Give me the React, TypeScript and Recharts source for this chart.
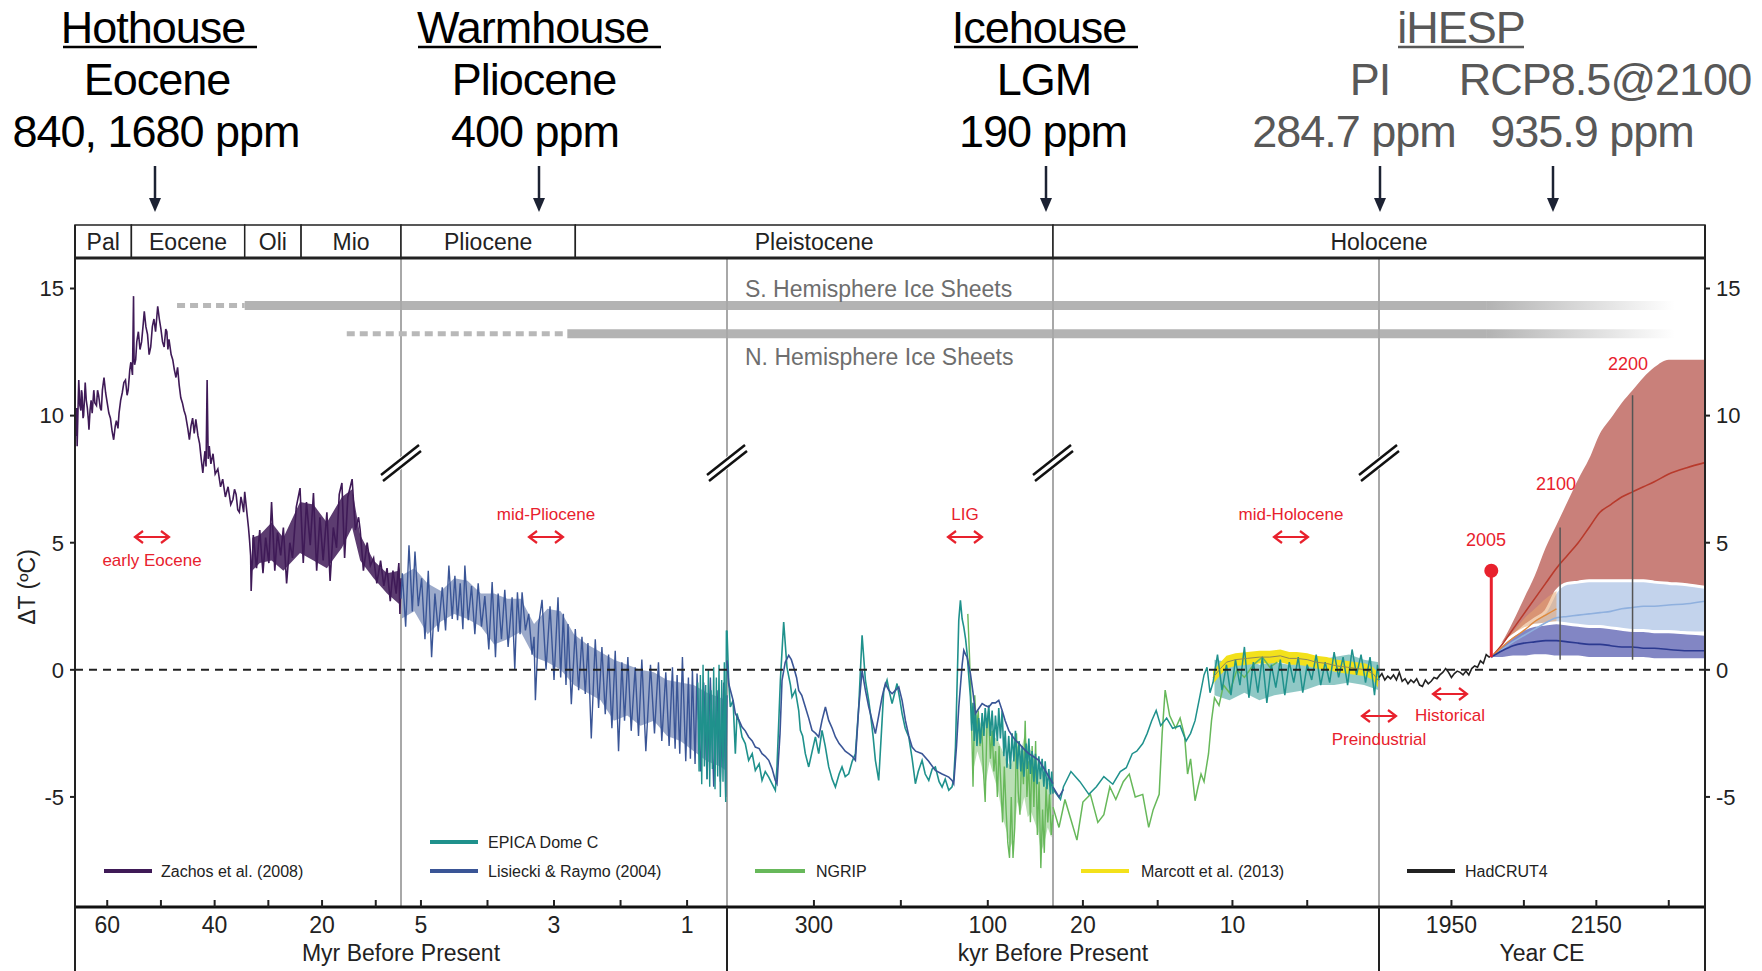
// App.tsx — Cenozoic temperature stack (paleo records + iHESP projections) in Recharts
import {
  ComposedChart, Line, Area, XAxis, YAxis, ReferenceLine, ReferenceArea, ReferenceDot,
} from "recharts";

const F = "'Liberation Sans', Arial, Helvetica, sans-serif";

// five panels on one composite x axis: [from, to] in the panel's own unit
const panels = [
  [66, 5.3],      // Myr
  [5.3, 0.4],     // Myr
  [400, 25],      // kyr
  [22, 0.2],      // kyr
  [1850, 2300],   // year CE
];
const px = (p: number, t: number) => p + (t - panels[p][0]) / (panels[p][1] - panels[p][0]);
const pxMyr = (t: number) => (t >= 5.3 ? px(0, t) : px(1, t));

// ---- axis ticks ----
const tickSets = [
  [60, 50, 40, 30, 20, 10],
  [5, 4, 3, 2, 1],
  [300, 200, 100],
  [20, 15, 10, 5],
  [1950, 2050, 2150, 2250],
];
const tickLabelled = [[60, 40, 20], [5, 3, 1], [300, 100], [20, 10], [1950, 2150]];
const yTicks = [-5, 0, 5, 10, 15];

// ---- era strip ----
const eraNames = ["Pal", "Eocene", "Oli", "Mio", "Pliocene", "Pleistocene", "Holocene"];
const eraBoundsMyr = [66, 55.5, 34.4, 23.9, 5.3, 2.68];

// ---- ice sheets ----
const iceNames = ["S. Hemisphere Ice Sheets", "N. Hemisphere Ice Sheets"];
const iceLevel = [14.33, 13.22];
const iceDashFromMyr = [47, 15.4];
const iceSolidFromMyr = [34.4, 2.8];
const iceFadeFromYear = 1999;
const iceEndYear = 2258;

// ---- Zachos et al. (2008), Myr ----
const zachos = [
  [65.8, 9.2], [65.7, 10.3], [65.6, 8.8], [65.4, 10.6], [65.3, 11.4], [65.1, 10.4], [64.9, 10.2],
  [64.8, 11.0], [64.7, 10.9], [64.5, 9.9], [64.4, 10.0], [64.2, 10.8], [64.1, 11.3], [63.9, 10.6],
  [63.7, 10.3], [63.5, 9.8], [63.4, 9.45], [63.2, 10.2], [63.0, 10.6], [62.8, 10.1], [62.5, 11.0],
  [62.3, 10.5], [62.0, 10.4], [61.8, 11.0], [61.6, 10.8], [61.3, 10.3], [61.1, 10.2], [60.9, 11.0],
  [60.6, 11.5], [60.3, 10.9], [60.0, 10.5], [59.7, 10.1], [59.4, 9.9], [59.1, 9.4], [58.8, 9.05],
  [58.5, 9.6], [58.3, 9.8], [58.0, 9.5], [57.8, 10.1], [57.5, 10.6], [57.2, 10.9], [56.9, 11.3],
  [56.6, 11.4], [56.3, 10.8], [56.1, 11.0], [55.8, 11.8], [55.6, 12.1], [55.3, 11.6], [55.1, 14.7],
  [55.0, 12.2], [54.9, 12.0], [54.7, 12.2], [54.5, 12.9], [54.2, 13.3], [53.9, 12.6], [53.6, 12.9],
  [53.3, 13.6], [53.1, 14.1], [52.8, 13.5], [52.5, 13.2], [52.2, 12.4], [51.9, 12.7], [51.6, 13.5],
  [51.3, 13.8], [51.0, 13.3], [50.6, 14.3], [50.3, 13.8], [50.0, 13.4], [49.7, 12.9], [49.4, 12.7],
  [49.1, 13.4], [48.9, 13.3], [48.7, 12.6], [48.5, 13.0], [48.1, 12.4], [47.8, 12.2], [47.5, 11.8],
  [47.2, 11.5], [46.9, 11.9], [46.6, 11.2], [46.3, 10.7], [46.0, 10.5], [45.7, 10.2], [45.4, 10.0],
  [45.0, 9.5], [44.7, 9.05], [44.4, 9.6], [44.1, 9.9], [43.8, 9.3], [43.5, 9.85], [43.1, 9.2],
  [42.8, 8.9], [42.5, 8.3], [42.2, 7.75], [42.0, 8.2], [41.8, 8.6], [41.6, 8.0], [41.4, 11.4],
  [41.2, 8.3], [41.0, 8.8], [40.7, 8.1], [40.3, 8.5], [39.9, 7.7], [39.4, 7.9], [38.9, 7.2],
  [38.5, 7.5], [38.0, 6.8], [37.5, 7.2], [37.0, 6.5], [36.6, 6.7], [36.3, 7.1], [36.0, 6.9],
  [35.7, 6.3], [35.4, 6.2], [35.1, 6.8], [34.9, 6.6], [34.6, 6.2], [34.4, 7.0], [34.1, 6.4],
  [33.9, 6.0], [33.7, 5.6], [33.5, 5.1], [33.3, 4.5], [33.2, 3.1],
  [32.8, 5.3], [32.2, 4.0], [31.6, 5.5], [31.0, 3.8], [30.5, 5.2], [29.9, 4.2], [29.4, 6.6],
  [28.8, 3.9], [28.3, 5.4], [27.7, 4.5], [27.2, 5.6], [26.6, 3.4], [26.0, 5.0], [25.5, 4.4],
  [24.8, 6.4], [24.1, 7.15], [23.5, 4.2], [22.9, 6.6], [22.2, 4.9], [21.6, 6.95], [21.0, 3.9],
  [20.4, 6.0], [19.8, 4.3], [19.1, 6.2], [18.5, 3.5], [17.9, 5.6], [17.3, 4.8], [16.8, 6.9],
  [16.3, 7.35], [15.8, 4.4], [15.2, 6.8], [14.4, 7.5], [13.8, 5.5], [13.2, 6.0], [12.9, 5.5],
  [12.3, 3.9], [11.6, 5.0], [11.0, 4.1], [10.4, 4.4], [9.8, 3.4], [9.1, 4.3], [8.5, 3.3],
  [7.9, 4.0], [7.3, 2.7], [6.8, 3.9], [6.2, 3.0], [5.7, 4.2], [5.5, 2.2], [5.3, 3.6],
];
const zachosBand = [
  [33.0, 3.9, 5.2], [31.6, 4.2, 5.3], [29.4, 4.3, 5.8], [27.2, 3.9, 5.2], [24.1, 4.6, 6.6],
  [21.6, 4.3, 6.5], [19.1, 4.0, 5.8], [16.3, 4.8, 6.8], [14.4, 5.6, 7.1], [12.9, 4.3, 5.3],
  [10.4, 3.6, 4.3], [7.9, 3.0, 3.8], [5.7, 2.6, 3.9], [5.3, 2.4, 4.2],
];

// ---- Lisiecki & Raymo (2004) ----
const lisieckiMyr = [
  [5.30, 2.8], [5.28, 3.8], [5.23, 1.7], [5.18, 4.9], [5.13, 2.3], [5.09, 4.65], [5.04, 2.5],
  [4.99, 3.6], [4.94, 1.2], [4.89, 3.9], [4.84, 0.5], [4.79, 3.0], [4.74, 1.5], [4.68, 3.25],
  [4.63, 1.55], [4.58, 4.1], [4.53, 2.0], [4.49, 3.7], [4.45, 1.95], [4.41, 3.4], [4.37, 1.6],
  [4.34, 4.1], [4.29, 1.95], [4.24, 3.3], [4.19, 1.4], [4.14, 3.4], [4.09, 1.7], [4.04, 2.9],
  [3.98, 0.8], [3.93, 3.45], [3.88, 0.5], [3.84, 3.0], [3.79, 1.2], [3.74, 3.15], [3.69, 0.9],
  [3.63, 2.85], [3.59, 0.0], [3.55, 3.05], [3.51, 1.4], [3.48, 3.05], [3.43, 1.55], [3.38, 2.2],
  [3.33, 0.6], [3.30, 1.3], [3.28, -1.2], [3.23, 1.8], [3.18, 2.75], [3.12, 0.0], [3.06, 2.5],
  [3.00, -0.4], [2.94, 2.85], [2.90, -0.3], [2.86, 2.2], [2.82, -0.6], [2.79, 1.8], [2.74, -1.35],
  [2.68, 1.6], [2.63, -0.8], [2.58, 1.3], [2.53, -0.95], [2.49, 1.05], [2.44, -2.7], [2.38, 1.2],
  [2.33, -1.5], [2.28, 0.9], [2.23, -1.75], [2.18, 0.6], [2.13, -2.3], [2.08, 0.75], [2.03, -3.2],
  [1.98, 0.3], [1.94, -2.0], [1.89, 0.5], [1.84, -2.4], [1.78, 0.1], [1.73, -2.6], [1.68, 0.4],
  [1.62, -3.2], [1.55, 0.2], [1.49, -2.5], [1.43, 0.3], [1.38, -2.8], [1.32, -0.1], [1.27, -3.0],
  [1.22, 0.1], [1.18, -3.1], [1.15, -0.2], [1.11, -3.3], [1.07, 0.5], [1.02, -3.6], [0.98, -0.3],
  [0.95, -3.5], [0.92, 0.0], [0.88, -3.7], [0.85, -0.15], [0.80, -4.0], [0.75, -0.5], [0.70, -4.3],
  [0.65, -0.3], [0.60, -4.6], [0.55, -0.8], [0.50, -4.4], [0.45, -0.5], [0.42, -5.0], [0.40, -1.0],
];
const lisieckiBand = [
  [5.3, 2.0, 3.7], [5.1, 2.3, 4.0], [4.9, 1.4, 3.4], [4.7, 1.9, 3.1], [4.5, 2.2, 3.6], [4.3, 2.0, 3.5],
  [4.1, 1.7, 3.0], [3.9, 1.0, 3.0], [3.7, 1.2, 2.8], [3.5, 1.5, 2.8], [3.3, 0.5, 1.8], [3.1, 0.3, 2.4],
  [2.9, 0.0, 2.3], [2.7, -0.6, 1.4], [2.5, -0.9, 1.0], [2.3, -1.2, 0.7], [2.1, -2.0, 0.4], [1.9, -1.8, 0.2],
  [1.7, -2.2, 0.0], [1.5, -2.0, -0.1], [1.3, -2.6, -0.4], [1.1, -2.8, -0.5], [0.9, -3.2, -0.6],
  [0.7, -3.6, -0.9], [0.5, -3.8, -1.1], [0.4, -4.0, -1.2],
];
const lisieckiKyr = [
  [400, 0.37], [398.1, -0.54], [393, -1.2], [390.4, -1.72], [386, -2.0], [382.7, -2.25], [379, -2.4],
  [375.1, -2.64], [371, -2.8], [367.4, -3.04], [363, -3.1], [359.7, -3.3], [356, -3.4], [352, -3.56],
  [348, -3.9], [344.4, -4.35], [342.5, -4.48], [339, -2.5], [336.7, -0.41], [333, 0.3], [329, 0.57],
  [326, 0.4], [323.3, 0.1], [320, -0.3], [317.5, -0.81], [314, -1.0], [309.9, -1.46], [306, -1.9],
  [302.2, -2.38], [298, -2.5], [294.5, -2.64], [290.7, -1.99], [286.8, -1.46], [283, -1.99], [279, -2.3],
  [275.3, -2.64], [271, -2.9], [267.7, -3.04], [264, -3.2], [260, -3.3], [256, -3.4], [252.3, -3.56],
  [248.5, -1.5], [244.6, -0.03], [240.8, -0.8], [237, -1.46], [233, -2.0], [229.3, -2.51], [225.5, -1.8],
  [221.6, -1.07], [217.8, -0.54], [214, -0.8], [210.1, -0.94], [206, -0.8], [202.4, -0.68], [198.6, -1.2],
  [194.8, -1.99], [190.9, -2.6], [187.1, -3.04], [183, -3.2], [175.6, -3.3], [168, -3.6], [160.3, -3.96],
  [152.6, -4.1], [144.9, -4.22], [141.1, -4.35], [139.2, -4.48], [136, -3.0], [133.4, -1.46], [129.5, 0.2],
  [127.6, 0.77], [125.5, 0.6], [123.8, 0.5], [120, -0.15], [117, -0.9], [114.2, -1.72], [110, -1.5],
  [106.5, -1.33], [103, -1.4], [98.9, -1.46], [95, -1.3], [91.2, -1.3], [87.4, -1.2], [83.5, -1.6],
  [80, -2.0], [75.9, -2.38], [72, -2.6], [68.2, -2.77], [64, -2.9], [60.5, -3.04], [56, -3.2],
  [52.8, -3.3], [48, -3.4], [41.3, -3.56], [35, -3.9], [29.8, -4.2], [25, -4.48],
];
const lisieckiEnd = [[22, -4.6], [21.6, -5.0], [21.3, -4.7]];

// ---- EPICA Dome C ----
const epicaMyr = [
  [0.84, -0.5], [0.82, -4.0], [0.80, -0.2], [0.78, -4.5], [0.76, 0.2], [0.74, -3.8], [0.72, -0.6],
  [0.70, -4.3], [0.68, 0.0], [0.66, -4.6], [0.64, -0.8], [0.62, -3.9], [0.60, 0.1], [0.58, -4.7],
  [0.56, -0.3], [0.54, -4.2], [0.52, 0.2], [0.50, -5.0], [0.48, -0.4], [0.46, -4.4], [0.44, 0.3],
  [0.42, -5.2], [0.41, 1.55], [0.40, 0.8],
];
const epicaKyr = [
  [400, 1.55], [398.1, -0.41], [396.2, -1.46], [393, -1.2], [390.4, -3.3], [388.5, -1.72], [385, -2.2],
  [382.7, -2.64], [379, -2.9], [375.1, -3.56], [371, -3.3], [367.4, -3.96], [363, -3.7], [359.7, -4.35],
  [356, -4.0], [352, -4.22], [348, -4.5], [344.4, -4.74], [342.5, -3.82], [338.6, -0.41], [334.8, 1.88],
  [331, 0.1], [327, -0.6], [325.2, -1.07], [321.4, -0.81], [317.5, -1.6], [315.6, -2.38], [313, -2.6],
  [309.9, -3.3], [306, -3.82], [302, -3.2], [298.3, -2.64], [294.5, -3.3], [290.7, -2.38], [287, -3.0],
  [283, -3.82], [279, -4.3], [275.3, -4.61], [271, -4.1], [267.7, -3.82], [264, -4.2], [260, -4.09],
  [256, -3.6], [252.3, -3.3], [248.5, -1.46], [244.6, 1.36], [240.8, -0.41], [237, -1.2], [235, -1.72],
  [232, -2.6], [229.3, -3.56], [225.5, -4.35], [221.6, -2.0], [219.7, -0.81], [215.9, -0.41], [213, -0.9],
  [210.1, -1.33], [207, -0.9], [204.4, -0.54], [201, -1.2], [198.6, -1.72], [195, -2.3], [190.9, -2.64],
  [187, -3.5], [183.3, -4.48], [180, -4.0], [175.6, -3.56], [172, -4.1], [167.9, -4.35], [164, -3.9],
  [160.3, -3.82], [156, -4.4], [152.6, -4.61], [149, -4.3], [144.9, -4.74], [141.1, -4.6], [139.2, -4.3],
  [137.2, -3.04], [133.4, 1.95], [131.5, 2.73], [129.5, 2.0], [127.6, 1.68], [125.5, 1.2], [123.8, 0.64],
  [122, -0.2], [120, -1.07], [118.5, -2.4], [117, -1.3], [115.5, -2.8], [114.2, -1.6], [112.5, -3.0],
  [110.5, -1.9], [108.5, -2.9], [106.5, -1.7], [104.5, -2.6], [103, -1.5], [101, -2.3], [98.9, -1.4],
  [97, -2.6], [95, -1.6], [93, -3.0], [91.2, -1.8], [89, -2.8], [87.4, -1.5], [85.5, -2.7], [83.5, -1.6],
  [81.5, -3.4], [80, -2.4], [78, -3.85], [75.9, -2.6], [74, -3.9], [72, -2.5], [70, -3.6], [68.2, -2.4],
  [66, -3.9], [64, -2.8], [62, -4.0], [60.5, -3.0], [58.5, -4.2], [56, -2.9], [54.5, -3.9], [52.8, -2.7],
  [51, -4.1], [49, -3.2], [47, -4.4], [45.2, -3.3], [43.3, -4.5], [41.3, -3.4], [39.5, -4.3], [37.5, -3.5],
  [35.5, -4.6], [34, -3.6], [32, -4.7], [29.8, -3.9], [28, -4.9], [26.5, -4.0], [25, -4.87],
];
const epicaHol = [
  [22, -4.7], [21.5, -5.1], [21.3, -4.6], [20.8, -4.0], [20.2, -4.4], [19.6, -4.9], [19.1, -4.6],
  [18.6, -4.2], [18.0, -4.5], [17.5, -4.0], [17.1, -3.85], [16.7, -3.3], [16.4, -3.2], [16.0, -2.9],
  [15.7, -2.5], [15.4, -2.0], [15.1, -1.6], [14.8, -2.2], [14.4, -1.9], [14.0, -2.3], [13.5, -2.2],
  [13.1, -2.8], [12.8, -2.5], [12.5, -2.0], [12.2, -1.1], [11.9, -0.2], [11.7, 0.1], [11.5, -0.9],
  [11.3, -0.5], [11.0, 0.6], [10.7, -0.8], [10.4, 0.2], [10.1, -1.0], [9.8, 0.4], [9.5, -0.6],
  [9.2, 0.9], [8.9, -1.1], [8.6, 0.3], [8.3, -0.9], [8.0, 0.5], [7.7, -1.3], [7.4, 0.2], [7.1, -0.7],
  [6.8, 0.4], [6.5, -1.0], [6.2, 0.3], [5.9, -0.5], [5.6, 0.5], [5.3, -0.9], [5.0, 0.2], [4.7, -0.4],
  [4.4, 0.6], [4.1, -0.6], [3.8, 0.3], [3.5, -0.5], [3.2, 0.7], [2.9, -0.3], [2.6, 0.5], [2.3, -0.6],
  [2.0, 0.8], [1.7, -0.2], [1.4, 0.6], [1.1, -0.5], [0.8, 0.5], [0.5, -1.0], [0.3, 0.2], [0.2, -0.4],
];
const epicaHolBand = [
  [11.2, -1.0, 0.4], [10.2, -1.2, 0.3], [9.2, -0.9, 0.5], [8.2, -1.2, 0.2], [7.2, -1.0, 0.3],
  [6.2, -0.9, 0.2], [5.2, -0.8, 0.3], [4.2, -0.6, 0.4], [3.2, -0.6, 0.5], [2.2, -0.5, 0.6],
  [1.2, -0.6, 0.4], [0.2, -0.8, 0.3],
];

// ---- NGRIP ----
const ngripKyr = [
  [123, 2.2], [121, 0.5], [119, -1.5], [117, -4.6], [115, -1.0], [113, -2.5], [111, -1.6],
  [109, -3.0], [107, -2.2], [105, -4.0], [103, -5.2], [101, -2.2], [99, -1.6], [97, -3.5],
  [95, -2.4], [93, -4.0], [91, -3.2], [89, -5.0], [87, -3.0], [85, -4.5], [83, -6.0], [81, -3.8],
  [79, -5.5], [77, -6.8], [75, -7.4], [73, -5.0], [71, -7.4], [69, -6.2], [67, -2.5], [65, -4.8],
  [63, -5.7], [61, -3.2], [59, -4.5], [57, -2.0], [55, -5.0], [53, -3.6], [51, -6.0], [49, -3.0],
  [47, -5.4], [45, -2.8], [43, -6.5], [41, -4.4], [39, -7.8], [37, -5.5], [35, -7.2], [33, -4.6],
  [31, -6.0], [29, -4.9], [27, -6.5], [25, -5.7],
];
const ngripBand = [
  [117, -4.0, -1.5], [112, -3.2, -1.8], [107, -3.8, -2.2], [103, -4.6, -2.0], [98, -3.6, -1.8],
  [93, -4.2, -2.6], [88, -4.8, -2.8], [83, -5.8, -3.2], [78, -6.4, -3.6], [74, -7.0, -3.8],
  [70, -6.6, -3.4], [66, -5.2, -3.0], [62, -5.6, -3.2], [58, -5.0, -2.6], [54, -5.8, -3.0],
  [50, -5.6, -3.2], [46, -6.0, -3.4], [42, -6.4, -3.8], [39, -7.2, -4.0], [35, -6.8, -4.2],
  [31, -6.2, -4.4], [27, -6.6, -4.6], [25, -6.2, -4.8],
];
const ngripHol = [
  [22, -5.4], [21.6, -6.2], [21.2, -5.1], [20.8, -5.9], [20.4, -6.7], [20.0, -5.2], [19.5, -4.9],
  [19.0, -6.0], [18.6, -5.7], [18.2, -4.6], [17.8, -5.1], [17.3, -4.4], [16.9, -4.1], [16.5, -5.0],
  [16.0, -4.9], [15.6, -6.2], [15.3, -5.5], [14.9, -4.9], [14.7, -2.5], [14.5, -0.8], [14.2, -1.8],
  [13.8, -2.3], [13.5, -1.9], [13.2, -2.6], [13.0, -4.1], [12.8, -3.5], [12.5, -5.15], [12.3, -4.6],
  [12.1, -4.1], [11.9, -4.4], [11.6, -3.3], [11.4, -2.0], [11.2, -1.1], [10.9, -1.4], [10.6, -0.6],
  [10.2, -0.9], [9.7, 0.0], [9.2, -0.3], [8.6, 0.2], [8.0, 0.5], [7.5, 0.1], [7.0, 0.3],
];

// ---- Marcott et al. (2013) ----
const marcott = [
  [11.3, -0.3], [10.8, 0.05], [10.4, 0.3], [9.8, 0.4], [9.0, 0.45], [8.2, 0.5], [7.5, 0.5],
  [6.8, 0.55], [6.2, 0.45], [5.7, 0.45], [5.0, 0.4], [4.4, 0.3], [3.7, 0.25], [3.0, 0.15],
  [2.3, 0.1], [1.7, 0.05], [1.1, 0.0], [0.6, -0.15], [0.2, -0.45],
];
const marcottBand = [
  [11.3, -0.55, -0.05], [10.8, -0.2, 0.3], [10.4, 0.05, 0.55], [9.8, 0.15, 0.65], [9.0, 0.2, 0.7],
  [8.2, 0.25, 0.75], [7.5, 0.25, 0.75], [6.8, 0.3, 0.8], [6.2, 0.2, 0.7], [5.7, 0.2, 0.7],
  [5.0, 0.15, 0.65], [4.4, 0.05, 0.55], [3.7, 0.0, 0.5], [3.0, -0.1, 0.4], [2.3, -0.15, 0.35],
  [1.7, -0.2, 0.3], [1.1, -0.25, 0.25], [0.6, -0.4, 0.1], [0.2, -0.75, -0.15],
];

// ---- HadCRUT4, year CE ----
const hadcrut = [
  [1850, -0.3], [1854, -0.15], [1858, -0.4], [1862, -0.25], [1866, -0.35], [1870, -0.2],
  [1874, -0.4], [1878, -0.1], [1882, -0.45], [1886, -0.35], [1890, -0.55], [1894, -0.4],
  [1898, -0.5], [1902, -0.35], [1906, -0.6], [1910, -0.65], [1914, -0.4], [1918, -0.55],
  [1922, -0.45], [1926, -0.3], [1930, -0.35], [1934, -0.2], [1938, -0.1], [1942, 0.05],
  [1946, -0.1], [1950, -0.3], [1954, -0.15], [1958, -0.05], [1962, -0.1], [1966, -0.2],
  [1970, -0.05], [1974, -0.2], [1978, 0.05], [1982, 0.15], [1986, 0.1], [1990, 0.35],
  [1994, 0.25], [1998, 0.6], [2002, 0.5], [2005, 0.55],
];

// ---- iHESP projections, year CE ----
const projYears = [2005, 2020, 2035, 2050, 2065, 2080, 2095, 2110, 2125, 2140, 2155, 2170, 2185, 2200, 2215, 2230, 2250, 2275, 2300];
const redHi = [0.5, 1.1, 1.9, 2.8, 3.7, 4.8, 5.7, 6.6, 7.5, 8.3, 9.3, 9.9, 10.5, 11.0, 11.5, 11.9, 12.2, 12.2, 12.2];
const redLo = [0.5, 0.6, 0.8, 1.0, 1.2, 1.4, 1.5, 1.5, 1.5, 1.5, 1.5, 1.5, 1.5, 1.5, 1.5, 1.5, 1.5, 1.5, 1.5];
const redMean = [0.5, 1.0, 1.6, 2.2, 2.8, 3.4, 4.0, 4.5, 5.0, 5.6, 6.2, 6.5, 6.8, 7.0, 7.2, 7.4, 7.7, 7.95, 8.15];
const lbHi = [0.5, 0.9, 1.3, 1.7, 2.0, 2.3, 3.1, 3.4, 3.45, 3.5, 3.5, 3.5, 3.5, 3.5, 3.5, 3.45, 3.4, 3.35, 3.25];
const lbLo = [0.5, 0.7, 0.9, 1.1, 1.3, 1.4, 1.5, 1.55, 1.55, 1.55, 1.55, 1.55, 1.5, 1.5, 1.5, 1.5, 1.5, 1.45, 1.45];
const lbMean = [0.5, 0.8, 1.1, 1.35, 1.6, 1.85, 2.05, 2.1, 2.15, 2.2, 2.25, 2.3, 2.4, 2.45, 2.5, 2.5, 2.55, 2.6, 2.7];
const dbHi = [0.5, 1.0, 1.35, 1.6, 1.75, 1.8, 1.85, 1.8, 1.75, 1.7, 1.7, 1.65, 1.6, 1.55, 1.55, 1.5, 1.5, 1.45, 1.4];
const dbLo = [0.45, 0.45, 0.5, 0.5, 0.55, 0.55, 0.5, 0.5, 0.5, 0.45, 0.45, 0.45, 0.45, 0.45, 0.45, 0.4, 0.4, 0.4, 0.4];
const dbMean = [0.5, 0.75, 0.95, 1.05, 1.1, 1.15, 1.15, 1.1, 1.05, 1.0, 1.0, 0.95, 0.9, 0.9, 0.85, 0.85, 0.8, 0.75, 0.75];
const orYears = [2005, 2020, 2035, 2050, 2065, 2080, 2095];
const orHi = [0.5, 1.0, 1.5, 2.0, 2.4, 2.8, 3.1];
const orLo = [0.5, 0.8, 1.0, 1.2, 1.4, 1.5, 1.6];
const orMean = [0.5, 0.9, 1.25, 1.55, 1.9, 2.15, 2.4];
const projMarks = [[2100, 0.4, 5.6], [2200, 0.4, 10.8]];
const pin2005 = [2005, 0.5, 3.9];

// ---- helpers ----
const pts = (p: number, a: number[][]) => a.map(([t, v]) => ({ x: px(p, t), y: v }));
const band = (p: number, a: number[][]) => a.map(([t, lo, hi]) => ({ x: px(p, t), r: [lo, hi] }));
const projBand = (yrs: number[], lo: number[], hi: number[]) => yrs.map((t, i) => ({ x: px(4, t), r: [lo[i], hi[i]] }));
const projLine = (yrs: number[], v: number[]) => yrs.map((t, i) => ({ x: px(4, t), y: v[i] }));

const xTicks: { v: number; label: string }[] = [];
tickSets.forEach((set, p) => set.forEach((t) => {
  xTicks.push({ v: px(p, t), label: tickLabelled[p].includes(t) ? String(t) : "" });
}));

const eraEdges = [...eraBoundsMyr.map(pxMyr), 3, 5];

const C = {
  zachos: "#3f1a57", lr: "#3a5596", epica: "#1f918c", ngrip: "#67b85a",
  marcott: "#f3e11b", had: "#222", red: "#e8212d", ice: "#b3b3b3",
};

const XTick = (props: any) => {
  const { x, y, payload } = props;
  const hit = xTicks.find((t) => Math.abs(t.v - payload.value) < 1e-6);
  return (
    <g>
      <line x1={x} x2={x} y1={y - 7} y2={y} stroke="#222" strokeWidth={2} />
      {hit && hit.label && (
        <text x={x} y={y + 26} textAnchor="middle" fontSize={23} fill="#222" fontFamily={F}>{hit.label}</text>
      )}
    </g>
  );
};

const lineProps = { type: "linear" as const, dot: false, activeDot: false, isAnimationActive: false, dataKey: "y" };
const areaProps = { type: "linear" as const, dot: false, activeDot: false, isAnimationActive: false, dataKey: "r" };

function DblArrow({ cx, cy, w = 34 }: { cx: number; cy: number; w?: number }) {
  const a = cx - w / 2, b = cx + w / 2;
  return (
    <g stroke={C.red} strokeWidth={2.2} fill="none">
      <line x1={a} x2={b} y1={cy} y2={cy} />
      <polyline points={`${a + 8},${cy - 6} ${a},${cy} ${a + 8},${cy + 6}`} />
      <polyline points={`${b - 8},${cy - 6} ${b},${cy} ${b - 8},${cy + 6}`} />
    </g>
  );
}

function DownArrow({ x }: { x: number }) {
  return (
    <g>
      <line x1={x} x2={x} y1={166} y2={200} stroke="#1c2233" strokeWidth={2.5} />
      <polygon points={`${x - 6},${198} ${x + 6},${198} ${x},${212}`} fill="#1c2233" />
    </g>
  );
}

function BreakMark({ x }: { x: number }) {
  const y = 463;
  return (
    <g>
      <line x1={x - 19} y1={y + 15} x2={x + 19} y2={y - 15} stroke="#fff" strokeWidth={10} />
      <line x1={x - 20} y1={y + 12} x2={x + 18} y2={y - 18} stroke="#111" strokeWidth={2.5} />
      <line x1={x - 18} y1={y + 18} x2={x + 20} y2={y - 12} stroke="#111" strokeWidth={2.5} />
    </g>
  );
}

const topBlack = "#000";
const topGray = "#585858";

export default function App() {
  return (
    <div style={{ position: "relative", width: 1762, height: 971, background: "#fff", fontFamily: F }}>
      <style>{"body{margin:0}"}</style>
      <ComposedChart width={1762} height={971} margin={{ top: 258, right: 7, left: 25, bottom: 0 }}>
        <defs>
          <linearGradient id="iceFade" x1="0" x2="1" y1="0" y2="0">
            <stop offset="0" stopColor={C.ice} stopOpacity={1} />
            <stop offset="1" stopColor={C.ice} stopOpacity={0} />
          </linearGradient>
        </defs>
        <XAxis
          dataKey="x" type="number" domain={[0, 5]} allowDataOverflow
          ticks={xTicks.map((t) => t.v)} interval={0} tick={<XTick />}
          tickLine={false} tickSize={0} tickMargin={0} height={64}
          axisLine={{ stroke: "#111", strokeWidth: 3 }}
        />
        <YAxis
          domain={[-9.33, 16.2]} allowDataOverflow ticks={yTicks} width={50}
          tick={{ fontSize: 22, fill: "#222", fontFamily: F }} tickSize={5} tickMargin={6}
          tickLine={{ stroke: "#222", strokeWidth: 2 }} axisLine={false}
        />
        <YAxis
          yAxisId="r" orientation="right" domain={[-9.33, 16.2]} allowDataOverflow ticks={yTicks} width={50}
          tick={{ fontSize: 22, fill: "#222", fontFamily: F }} tickSize={5} tickMargin={6}
          tickLine={{ stroke: "#222", strokeWidth: 2 }} axisLine={false}
        />

        {/* era strip above the plot */}
        {eraNames.map((n, i) => (
          <ReferenceArea
            key={n} x1={eraEdges[i]} x2={eraEdges[i + 1]} y1={16.2} y2={17.5} ifOverflow="visible"
            fill="#fff" fillOpacity={1} stroke="#222" strokeWidth={1.5}
            label={{ value: n, position: "center", fontSize: 23, fill: "#222", fontFamily: F }}
          />
        ))}

        {/* panel dividers */}
        {[1, 2, 3, 4].map((p) => (
          <ReferenceLine key={p} x={p} stroke="#a8a8a8" strokeWidth={2} />
        ))}

        {/* ice sheets */}
        {iceLevel.map((lv, i) => (
          <ReferenceLine
            key={"d" + i} ifOverflow="visible"
            segment={[{ x: pxMyr(iceDashFromMyr[i]), y: lv }, { x: pxMyr(iceSolidFromMyr[i]), y: lv }]}
            stroke="#b8b8b8" strokeWidth={5} strokeDasharray="8 5"
          />
        ))}
        {iceLevel.map((lv, i) => (
          <ReferenceArea
            key={"s" + i} x1={pxMyr(iceSolidFromMyr[i])} x2={px(4, iceFadeFromYear)}
            y1={lv - 0.18} y2={lv + 0.18} fill={C.ice} fillOpacity={1} stroke="none"
          />
        ))}
        {iceLevel.map((lv, i) => (
          <ReferenceArea
            key={"f" + i} x1={px(4, iceFadeFromYear)} x2={px(4, iceEndYear)}
            y1={lv - 0.18} y2={lv + 0.18} fill="url(#iceFade)" fillOpacity={1} stroke="none"
          />
        ))}

        {/* paleo records */}
        <Area {...areaProps} data={band(0, zachosBand)} stroke="none" fill={C.zachos} fillOpacity={0.85} />
        <Line {...lineProps} data={pts(0, zachos)} stroke={C.zachos} strokeWidth={1.6} />

        <Area {...areaProps} data={band(1, lisieckiBand)} stroke="none" fill={C.lr} fillOpacity={0.5} />
        <Line {...lineProps} data={pts(1, lisieckiMyr)} stroke={C.lr} strokeWidth={1.4} />
        <Line {...lineProps} data={pts(1, epicaMyr)} stroke={C.epica} strokeWidth={1.4} />

        <Area {...areaProps} data={band(2, ngripBand)} stroke="none" fill={C.ngrip} fillOpacity={0.45} />
        <Line {...lineProps} data={pts(2, ngripKyr)} stroke={C.ngrip} strokeWidth={1.4} />
        <Line {...lineProps} data={pts(2, epicaKyr)} stroke={C.epica} strokeWidth={1.6} />
        <Line {...lineProps} data={pts(2, lisieckiKyr)} stroke={C.lr} strokeWidth={1.6} />

        <Line {...lineProps} data={pts(3, ngripHol)} stroke={C.ngrip} strokeWidth={1.5} />
        <Area {...areaProps} data={band(3, epicaHolBand)} stroke="none" fill={C.epica} fillOpacity={0.5} />
        <Line {...lineProps} data={pts(3, epicaHol)} stroke={C.epica} strokeWidth={1.5} />
        <Line {...lineProps} data={pts(3, lisieckiEnd)} stroke={C.lr} strokeWidth={1.5} />
        <Area {...areaProps} data={band(3, marcottBand)} stroke="none" fill={C.marcott} fillOpacity={1} />
        <Line {...lineProps} data={pts(3, marcott)} stroke="#8f8756" strokeWidth={1} />

        <Line {...lineProps} data={pts(4, hadcrut)} stroke={C.had} strokeWidth={1.6} />

        {/* projections */}
        <Area {...areaProps} type="monotone" data={projBand(projYears, redLo, redHi)} stroke="none" fill="#c9807a" fillOpacity={1} />
        <Area {...areaProps} type="monotone" data={projBand(projYears, lbLo, lbHi)} stroke="#fff" strokeWidth={3} fill="#c3d3ec" fillOpacity={1} />
        <Area {...areaProps} type="monotone" data={projBand(orYears, orLo, orHi)} stroke="none" fill="#e5a46f" fillOpacity={0.55} />
        <Area {...areaProps} type="monotone" data={projBand(projYears, dbLo, dbHi)} stroke="#fff" strokeWidth={3} fill="#8286c4" fillOpacity={1} />
        <Line {...lineProps} type="monotone" data={projLine(projYears, redMean)} stroke="#b83a2c" strokeWidth={1.6} />
        <Line {...lineProps} type="monotone" data={projLine(projYears, lbMean)} stroke="#8fb0de" strokeWidth={1.6} />
        <Line {...lineProps} type="monotone" data={projLine(orYears, orMean)} stroke="#e08a3c" strokeWidth={1.4} />
        <Line {...lineProps} type="monotone" data={projLine(projYears, dbMean)} stroke="#2b3990" strokeWidth={1.6} />
        {projMarks.map(([t, lo, hi]) => (
          <ReferenceLine key={t} segment={[{ x: px(4, t), y: lo }, { x: px(4, t), y: hi }]} stroke="#555" strokeWidth={1.5} />
        ))}
        <ReferenceLine
          segment={[{ x: px(4, pin2005[0]), y: pin2005[1] }, { x: px(4, pin2005[0]), y: pin2005[2] }]}
          stroke={C.red} strokeWidth={3}
        />
        <ReferenceDot x={px(4, pin2005[0])} y={pin2005[2]} r={7} fill={C.red} stroke="none" />

        <ReferenceLine y={0} stroke="#222" strokeWidth={2} strokeDasharray="8 6" />
      </ComposedChart>

      <svg width={1762} height={971} style={{ position: "absolute", left: 0, top: 0, pointerEvents: "none" }} fontFamily={F}>
        {/* frame */}
        <line x1={75} x2={75} y1={225} y2={971} stroke="#222" strokeWidth={2} />
        <line x1={1705} x2={1705} y1={225} y2={971} stroke="#222" strokeWidth={2} />
        <line x1={75} x2={1705} y1={258} y2={258} stroke="#222" strokeWidth={3} />
        <line x1={727} x2={727} y1={907} y2={971} stroke="#222" strokeWidth={2} />
        <line x1={1379} x2={1379} y1={907} y2={971} stroke="#222" strokeWidth={2} />

        {/* headline labels */}
        <g fontSize={45} letterSpacing={-1} textAnchor="middle">
          <text x={153} y={43} fill={topBlack}>Hothouse</text>
          <text x={533} y={43} fill={topBlack}>Warmhouse</text>
          <text x={1039} y={43} fill={topBlack}>Icehouse</text>
          <text x={1461} y={43} fill={topGray}>iHESP</text>
          <text x={157} y={95} fill={topBlack}>Eocene</text>
          <text x={534} y={95} fill={topBlack}>Pliocene</text>
          <text x={1044} y={95} fill={topBlack}>LGM</text>
          <text x={1370} y={95} fill={topGray}>PI</text>
          <text x={1605} y={95} fill={topGray}>RCP8.5@2100</text>
          <text x={156} y={147} fill={topBlack}>840, 1680 ppm</text>
          <text x={535} y={147} fill={topBlack}>400 ppm</text>
          <text x={1043} y={147} fill={topBlack}>190 ppm</text>
          <text x={1354} y={147} fill={topGray}>284.7 ppm</text>
          <text x={1592} y={147} fill={topGray}>935.9 ppm</text>
        </g>
        <line x1={63} x2={257} y1={47} y2={47} stroke={topBlack} strokeWidth={2.5} />
        <line x1={418} x2={661} y1={47} y2={47} stroke={topBlack} strokeWidth={2.5} />
        <line x1={954} x2={1138} y1={47} y2={47} stroke={topBlack} strokeWidth={2.5} />
        <line x1={1398} x2={1524} y1={47} y2={47} stroke={topGray} strokeWidth={2.5} />
        {[155, 539, 1046, 1380, 1553].map((x) => <DownArrow key={x} x={x} />)}

        {/* y label */}
        <text transform="translate(27,587) rotate(-90)" textAnchor="middle" dominantBaseline="central" fontSize={23} fill="#222">ΔT (ºC)</text>

        {/* ice sheet labels */}
        <text x={745} y={297} fontSize={23} fill="#6e6e6e">{iceNames[0]}</text>
        <text x={745} y={365} fontSize={23} fill="#6e6e6e">{iceNames[1]}</text>

        {/* axis breaks */}
        {[401, 727, 1053, 1379].map((x) => <BreakMark key={x} x={x} />)}

        {/* red annotations */}
        <g fontSize={17} fill={C.red} textAnchor="middle">
          <text x={152} y={566}>early Eocene</text>
          <text x={546} y={520}>mid-Pliocene</text>
          <text x={965} y={520}>LIG</text>
          <text x={1291} y={520}>mid-Holocene</text>
          <text x={1379} y={745}>Preindustrial</text>
          <text x={1450} y={721}>Historical</text>
          <text x={1486} y={546} fontSize={18}>2005</text>
          <text x={1556} y={490} fontSize={18}>2100</text>
          <text x={1628} y={370} fontSize={18}>2200</text>
        </g>
        <DblArrow cx={152} cy={537} />
        <DblArrow cx={546} cy={537} />
        <DblArrow cx={965} cy={537} />
        <DblArrow cx={1291} cy={537} />
        <DblArrow cx={1379} cy={716} />
        <DblArrow cx={1450} cy={694} />

        {/* legend */}
        <g fontSize={16} fill="#222">
          <line x1={104} x2={152} y1={871} y2={871} stroke={C.zachos} strokeWidth={4} />
          <text x={161} y={877}>Zachos et al. (2008)</text>
          <line x1={430} x2={478} y1={842} y2={842} stroke={C.epica} strokeWidth={4} />
          <text x={488} y={848}>EPICA Dome C</text>
          <line x1={430} x2={478} y1={871} y2={871} stroke={C.lr} strokeWidth={4} />
          <text x={488} y={877}>Lisiecki &amp; Raymo (2004)</text>
          <line x1={755} x2={805} y1={871} y2={871} stroke={C.ngrip} strokeWidth={4} />
          <text x={816} y={877}>NGRIP</text>
          <line x1={1081} x2={1129} y1={871} y2={871} stroke={C.marcott} strokeWidth={4} />
          <text x={1141} y={877}>Marcott et al. (2013)</text>
          <line x1={1407} x2={1455} y1={871} y2={871} stroke={C.had} strokeWidth={4} />
          <text x={1465} y={877}>HadCRUT4</text>
        </g>

        {/* axis titles */}
        <g fontSize={23} fill="#222" textAnchor="middle">
          <text x={401} y={961}>Myr Before Present</text>
          <text x={1053} y={961}>kyr Before Present</text>
          <text x={1542} y={961}>Year CE</text>
        </g>
      </svg>
    </div>
  );
}
